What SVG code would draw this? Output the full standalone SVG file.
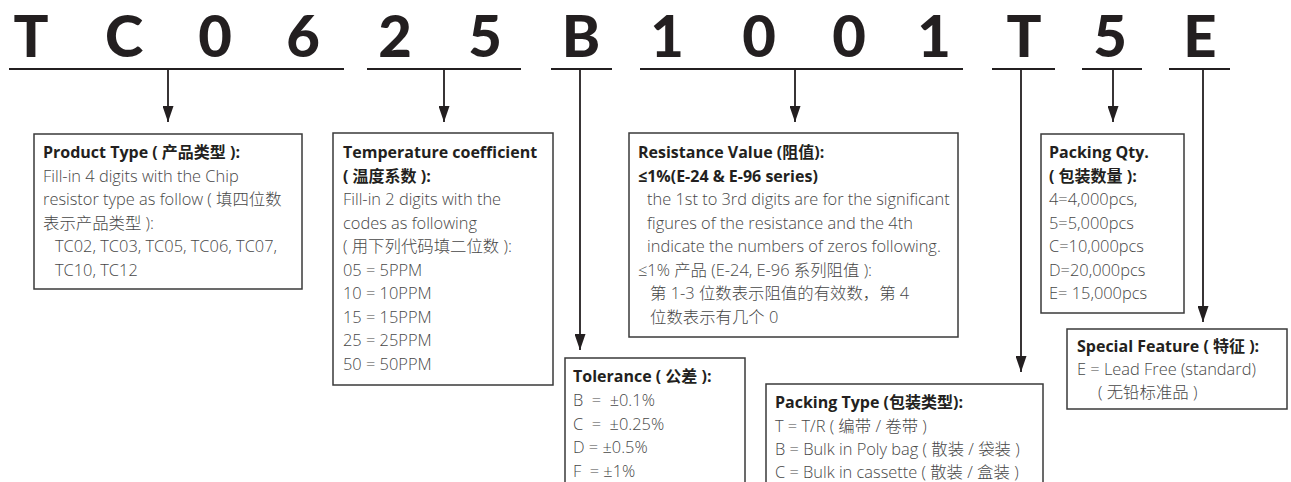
<svg xmlns="http://www.w3.org/2000/svg" width="1291" height="482" viewBox="0 0 1291 482">
<defs>
<marker id="ah" markerWidth="16" markerHeight="11" refX="16" refY="5.5" orient="auto" markerUnits="userSpaceOnUse" viewBox="0 0 16 11">
<path d="M0,0 L16,5.5 L0,11 Z" fill="#231f20"/>
</marker>
<style>
.big{font-family:"Lato","Liberation Sans",sans-serif;font-weight:900;font-size:58px;fill:#231f20;text-anchor:middle}
.ul{stroke:#231f20;stroke-width:1.8;fill:none}
.con{stroke:#231f20;stroke-width:1.8;fill:none}
.box{fill:#fff;stroke:#3a3a3a;stroke-width:1.5}
.t{font-family:"Open Sans","Noto Sans","Noto Sans CJK SC",sans-serif;font-size:16.4px;font-weight:300;fill:#474747}
.h{font-family:"Open Sans","Noto Sans","Noto Sans CJK SC",sans-serif;font-size:16px;font-weight:bold;fill:#231f20}
</style>
</defs>
<rect width="1291" height="482" fill="#fff"/>
<g id="code">
<text class="big" x="31" y="57">T</text>
<text class="big" x="124" y="57">C</text>
<text class="big" x="215" y="57">0</text>
<text class="big" x="303" y="57">6</text>
<text class="big" x="395" y="57">2</text>
<text class="big" x="485" y="57">5</text>
<text class="big" x="581" y="57">B</text>
<text class="big" x="667" y="57">1</text>
<text class="big" x="759" y="57">0</text>
<text class="big" x="849" y="57">0</text>
<text class="big" x="934" y="57">1</text>
<text class="big" x="1024" y="57">T</text>
<text class="big" x="1110" y="57">5</text>
<text class="big" x="1200" y="57">E</text>
</g>
<g id="connectors">
<line class="ul" x1="9" y1="69" x2="344" y2="69"/>
<line class="ul" x1="367" y1="69" x2="521" y2="69"/>
<line class="ul" x1="551" y1="69" x2="612" y2="69"/>
<line class="ul" x1="640" y1="69" x2="963" y2="69"/>
<line class="ul" x1="992" y1="69" x2="1055" y2="69"/>
<line class="ul" x1="1082" y1="69" x2="1142" y2="69"/>
<line class="ul" x1="1169" y1="69" x2="1230" y2="69"/>
<line class="con" x1="168" y1="69" x2="168" y2="122" marker-end="url(#ah)"/>
<line class="con" x1="444" y1="69" x2="444" y2="122" marker-end="url(#ah)"/>
<line class="con" x1="580" y1="69" x2="580" y2="350" marker-end="url(#ah)"/>
<line class="con" x1="795" y1="69" x2="795" y2="122" marker-end="url(#ah)"/>
<line class="con" x1="1021" y1="69" x2="1021" y2="372" marker-end="url(#ah)"/>
<line class="con" x1="1113" y1="69" x2="1113" y2="122" marker-end="url(#ah)"/>
<line class="con" x1="1203" y1="69" x2="1203" y2="322" marker-end="url(#ah)"/>
</g>
<g id="product-type">
<rect class="box" x="34" y="134" width="268" height="155"/>
<text class="h" x="43" y="158">Product Type ( 产品类型 ):</text>
<text class="t" x="43" y="181.5">Fill-in 4 digits with the Chip</text>
<text class="t" x="43" y="205">resistor type as follow ( 填四位数</text>
<text class="t" x="43" y="228.5">表示产品类型 ):</text>
<text class="t" x="55" y="252">TC02, TC03, TC05, TC06, TC07,</text>
<text class="t" x="55" y="275.5">TC10, TC12</text>
</g>
<g id="temperature-coefficient">
<rect class="box" x="333" y="133" width="220" height="252"/>
<text class="h" x="343" y="158">Temperature coefficient</text>
<text class="h" x="343" y="181.5">( 温度系数 ):</text>
<text class="t" x="343" y="205">Fill-in 2 digits with the</text>
<text class="t" x="343" y="228.5">codes as following</text>
<text class="t" x="343" y="252">( 用下列代码填二位数 ):</text>
<text class="t" x="343" y="275.5">05 = 5PPM</text>
<text class="t" x="343" y="299">10 = 10PPM</text>
<text class="t" x="343" y="322.5">15 = 15PPM</text>
<text class="t" x="343" y="346">25 = 25PPM</text>
<text class="t" x="343" y="369.5">50 = 50PPM</text>
</g>
<g id="tolerance">
<rect class="box" x="565" y="358" width="180" height="140"/>
<text class="h" x="573" y="382">Tolerance ( 公差 ):</text>
<text class="t" x="573" y="406">B &#160;= &#160;±0.1%</text>
<text class="t" x="573" y="430">C &#160;= &#160;±0.25%</text>
<text class="t" x="573" y="453">D = ±0.5%</text>
<text class="t" x="573" y="477">F &#160;= ±1%</text>
</g>
<g id="resistance-value">
<rect class="box" x="629" y="133" width="329" height="204"/>
<text class="h" x="638" y="158">Resistance Value (阻值):</text>
<text class="h" x="638" y="181.5">≤1%(E-24 &amp; E-96 series)</text>
<text class="t" x="647" y="205">the 1st to 3rd digits are for the significant</text>
<text class="t" x="647" y="228.5">figures of the resistance and the 4th</text>
<text class="t" x="647" y="252">indicate the numbers of zeros following.</text>
<text class="t" x="638" y="275.5">≤1% 产品 (E-24, E-96 系列阻值 ):</text>
<text class="t" x="650" y="299">第 1-3 位数表示阻值的有效数，第 4</text>
<text class="t" x="650" y="322.5">位数表示有几个 0</text>
</g>
<g id="packing-type">
<rect class="box" x="766" y="384" width="277" height="120"/>
<text class="h" x="775" y="408">Packing Type (包装类型):</text>
<text class="t" x="775" y="432">T = T/R ( 编带 / 卷带 )</text>
<text class="t" x="775" y="455">B = Bulk in Poly bag ( 散装 / 袋装 )</text>
<text class="t" x="775" y="478">C = Bulk in cassette ( 散装 / 盒装 )</text>
</g>
<g id="packing-qty">
<rect class="box" x="1041" y="134" width="143" height="179"/>
<text class="h" x="1049" y="158">Packing Qty.</text>
<text class="h" x="1049" y="181.5">( 包装数量 ):</text>
<text class="t" x="1049" y="205">4=4,000pcs,</text>
<text class="t" x="1049" y="228.5">5=5,000pcs</text>
<text class="t" x="1049" y="252">C=10,000pcs</text>
<text class="t" x="1049" y="275.5">D=20,000pcs</text>
<text class="t" x="1049" y="299">E= 15,000pcs</text>
</g>
<g id="special-feature">
<rect class="box" x="1067" y="329" width="220" height="80"/>
<text class="h" x="1077" y="352">Special Feature ( 特征 ):</text>
<text class="t" x="1077" y="375">E = Lead Free (standard)</text>
<text class="t" x="1098" y="398">( 无铅标准品 )</text>
</g>
</svg>
